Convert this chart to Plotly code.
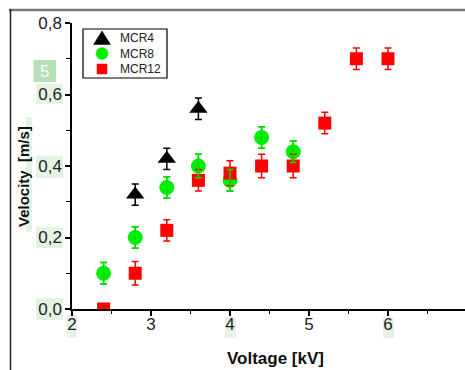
import plotly.graph_objects as go

# ---- data ----
v_mcr4 = [2.8, 3.2, 3.6]
y_mcr4 = [0.32, 0.42, 0.56]
e_mcr4 = [0.03, 0.03, 0.03]

v_mcr8 = [2.4, 2.8, 3.2, 3.6, 4.0, 4.4, 4.8]
y_mcr8 = [0.10, 0.20, 0.34, 0.40, 0.36, 0.48, 0.44]
e_mcr8 = [0.03, 0.03, 0.03, 0.033, 0.03, 0.03, 0.03]

v_mcr12 = [2.4, 2.8, 3.2, 3.6, 4.0, 4.4, 4.8, 5.2, 5.6, 6.0]
y_mcr12 = [0.0, 0.10, 0.22, 0.36, 0.38, 0.40, 0.40, 0.52, 0.70, 0.70]
e_mcr12 = [0.0, 0.033, 0.03, 0.03, 0.035, 0.033, 0.033, 0.03, 0.03, 0.03]

series_names = ["MCR4", "MCR8", "MCR12"]
x_ticks = [2, 3, 4, 5, 6, 7]
y_ticks = [0.0, 0.2, 0.4, 0.6, 0.8]

W, H = 465, 370
L, R, T, B = 72, 0, 23, 61
PW, PH = W - L - R, H - T - B
FONT = "Liberation Sans, Arial, sans-serif"


def px(xp):
    return (xp - L) / PW


def py(yp):
    return (H - B - yp) / PH


fig = go.Figure()

fig.add_trace(go.Scatter(
    x=v_mcr4, y=y_mcr4, mode="markers", name=series_names[0],
    marker=dict(symbol="triangle-up", size=16, color="black"),
    error_y=dict(type="data", array=e_mcr4, color="black", thickness=1.5, width=3.5),
))
fig.add_trace(go.Scatter(
    x=v_mcr8, y=y_mcr8, mode="markers", name=series_names[1],
    marker=dict(symbol="circle", size=15, color="#00ee00"),
    error_y=dict(type="data", array=e_mcr8, color="#00dd00", thickness=1.5, width=3.5),
))
fig.add_trace(go.Scatter(
    x=v_mcr12, y=y_mcr12, mode="markers", name=series_names[2],
    marker=dict(symbol="square", size=13, color="#ff0000"),
    error_y=dict(type="data", array=e_mcr12, color="#ff0000", thickness=1.5, width=3.5),
))
# green error bars drawn on top of the red squares
fig.add_trace(go.Scatter(
    x=v_mcr8, y=y_mcr8, mode="markers", showlegend=False, hoverinfo="skip",
    marker=dict(size=0.1, color="rgba(0,0,0,0)"),
    error_y=dict(type="data", array=e_mcr8, color="#00dd00", thickness=1.5, width=3.5),
))

shapes = []
# frame lines
shapes.append(dict(type="line", xref="paper", yref="paper", x0=px(9), x1=px(466), y0=py(10), y1=py(10),
                   line=dict(color="#777777", width=2.5)))
shapes.append(dict(type="line", xref="paper", yref="paper", x0=px(10.5), x1=px(10.5), y0=py(9), y1=py(371),
                   line=dict(color="#222222", width=1.5)))
# light green highlight boxes
hl = "#e4f3e4"
for (x0, y0, x1, y1) in [(36, 84, 63, 104), (36, 156, 63, 178), (36, 227, 63, 248), (36, 298, 63, 320),
                         (67, 315, 77, 338), (225, 317, 236, 338), (383, 317, 394, 338), (26, 117, 32, 232)]:
    shapes.append(dict(type="rect", xref="paper", yref="paper", layer="below",
                       x0=px(x0), x1=px(x1), y0=py(y1), y1=py(y0), fillcolor=hl, line=dict(width=0)))
# badge
shapes.append(dict(type="rect", xref="paper", yref="paper", layer="below",
                   x0=px(33.5), x1=px(56), y0=py(82), y1=py(60), fillcolor="#b6e0b6", line=dict(width=0)))
# legend box
shapes.append(dict(type="rect", xref="paper", yref="paper", layer="above",
                   x0=px(83), x1=px(167), y0=py(78), y1=py(29), fillcolor="rgba(255,255,255,0)",
                   line=dict(color="black", width=1.2)))
# legend symbols
shapes.append(dict(type="path", xref="paper", yref="paper", layer="above",
                   path="M {:.5f} {:.5f} L {:.5f} {:.5f} L {:.5f} {:.5f} Z".format(
                       px(93.5), py(44.5), px(110.5), py(44.5), px(102), py(31)),
                   fillcolor="black", line=dict(color="black", width=0.5)))
shapes.append(dict(type="circle", xref="paper", yref="paper", layer="above",
                   x0=px(96), x1=px(108), y0=py(59.5), y1=py(47.5),
                   fillcolor="#00ee00", line=dict(color="#00ee00", width=0.5)))
shapes.append(dict(type="rect", xref="paper", yref="paper", layer="above",
                   x0=px(97), x1=px(107), y0=py(74), y1=py(64),
                   fillcolor="#ff0000", line=dict(color="#ff0000", width=0.5)))

annotations = [
    dict(text="5", xref="paper", yref="paper", x=px(44.8), y=py(71), showarrow=False,
         font=dict(family=FONT, size=17, color="white"), xanchor="center", yanchor="middle"),
    dict(text="<b>Voltage [kV]</b>", xref="paper", yref="paper", x=px(275), y=py(358), showarrow=False,
         font=dict(family=FONT, size=17, color="#111111"), xanchor="center", yanchor="middle"),
    dict(text="<b>Velocity  [m/s]</b>", xref="paper", yref="paper", x=px(23), y=py(177), showarrow=False,
         textangle=-90, font=dict(family=FONT, size=15, color="#111111"), xanchor="center", yanchor="middle"),
]

leg_rows = [38, 53.5, 69]
for name, yy in zip(series_names, leg_rows):
    annotations.append(dict(text=name, xref="paper", yref="paper", x=px(119), y=py(yy), showarrow=False,
                            font=dict(family=FONT, size=12, color="#222222"),
                            xanchor="left", yanchor="middle", borderpad=0))

fig.update_layout(
    width=W, height=H,
    margin=dict(l=L, r=R, t=T, b=B, pad=0),
    paper_bgcolor="white", plot_bgcolor="white",
    separators=",.",
    font=dict(family=FONT, color="#222222"),
    showlegend=False,
    shapes=shapes,
    annotations=annotations,
)

fig.update_xaxes(
    range=[2, 2 + PW / 79.0], tickvals=x_ticks, ticktext=[str(v) for v in x_ticks],
    showline=True, linecolor="black", linewidth=1.5, mirror=False,
    ticks="outside", ticklen=5, tickwidth=1.5, tickcolor="black",
    tickfont=dict(family=FONT, size=17, color="#222222"),
    showgrid=False, zeroline=False, ticklabelstandoff=-6,
    minor=dict(dtick=0.5, tick0=2, ticks="outside", ticklen=3, tickwidth=1.2, tickcolor="black"),
)
fig.update_yaxes(
    range=[0, 0.8], tickvals=y_ticks, tickformat=".1f",
    showline=True, linecolor="black", linewidth=1.5, mirror=False,
    ticks="outside", ticklen=5, tickwidth=1.5, tickcolor="black",
    tickfont=dict(family=FONT, size=17, color="#222222"),
    showgrid=False, zeroline=False,
    minor=dict(dtick=0.1, tick0=0, ticks="outside", ticklen=4, tickwidth=1.2, tickcolor="black"),
)

fig.write_html("out.html", config={"displayModeBar": False},
               post_script="document.body.style.margin='0';document.body.style.overflow='hidden';")
